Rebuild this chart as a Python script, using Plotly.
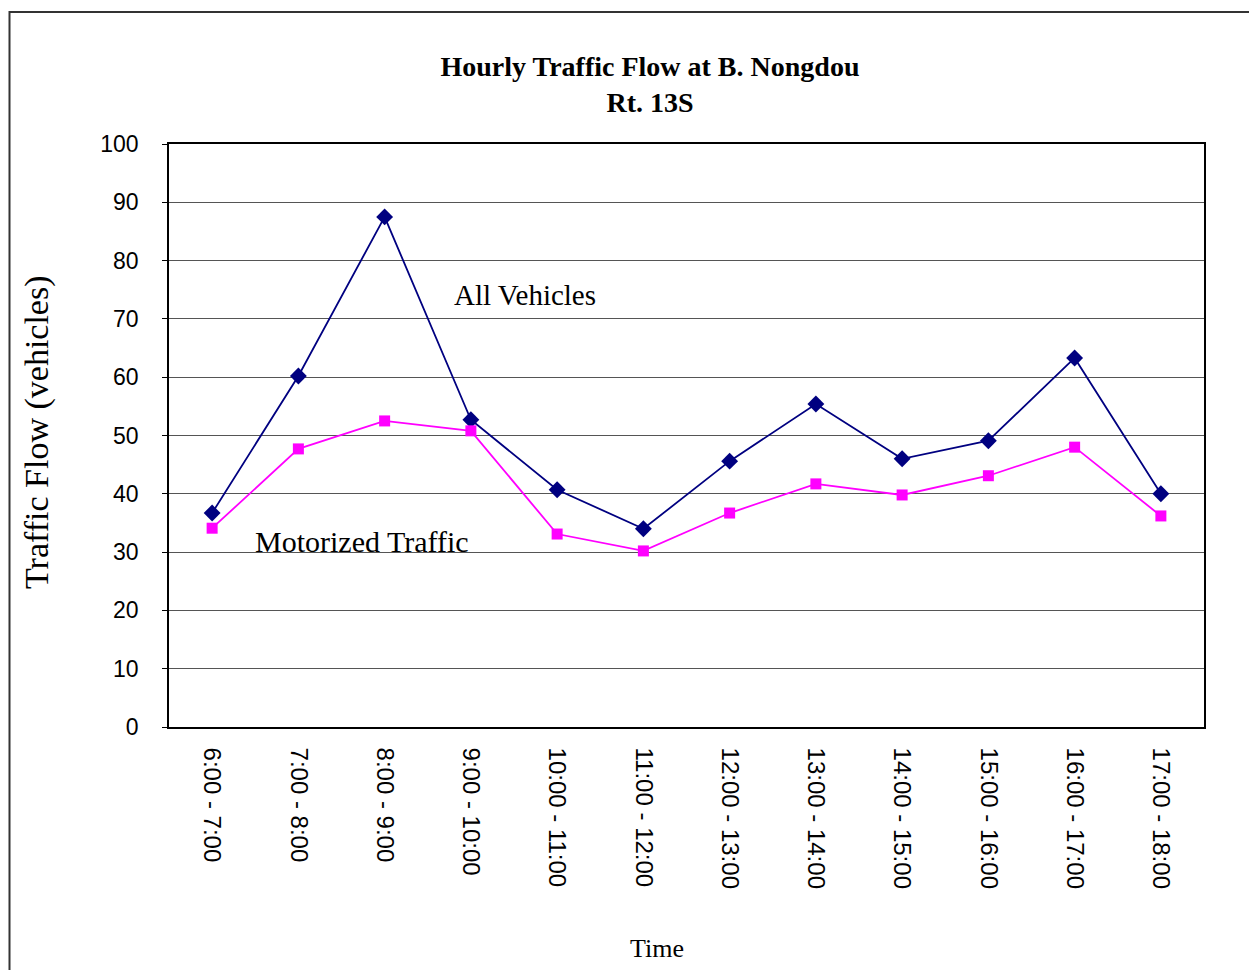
import plotly.graph_objects as go

hours = ["6:00 - 7:00", "7:00 - 8:00", "8:00 - 9:00", "9:00 - 10:00", "10:00 - 11:00",
         "11:00 - 12:00", "12:00 - 13:00", "13:00 - 14:00", "14:00 - 15:00",
         "15:00 - 16:00", "16:00 - 17:00", "17:00 - 18:00"]
all_vehicles = [36.7, 60.2, 87.5, 52.7, 40.7, 34.0, 45.6, 55.4, 46.0, 49.1, 63.3, 40.0]
motorized = [34.1, 47.7, 52.5, 50.8, 33.1, 30.2, 36.7, 41.7, 39.8, 43.1, 48.0, 36.2]
y_ticks = [0, 10, 20, 30, 40, 50, 60, 70, 80, 90, 100]

serif = "Liberation Serif, Times New Roman, serif"
sans = "Liberation Sans, Arial, sans-serif"

# page body has an 8px margin, so the figure is drawn 8px left/up of where it lands
off = 8

fig = go.Figure()
fig.add_trace(go.Scatter(x=hours, y=all_vehicles, mode="lines+markers", name="All Vehicles",
                         line=dict(color="#000080", width=1.8),
                         marker=dict(symbol="diamond", size=13, color="#000080")))
fig.add_trace(go.Scatter(x=hours, y=motorized, mode="lines+markers", name="Motorized Traffic",
                         line=dict(color="#FF00FF", width=1.8),
                         marker=dict(symbol="square", size=11, color="#FF00FF")))

fig.update_layout(
    width=1257, height=970,
    margin=dict(l=169 - off, r=53 + off, t=144 - off, b=243 + off),
    paper_bgcolor="white", plot_bgcolor="white",
    showlegend=False,
    title=dict(text="<b>Hourly Traffic Flow at B. Nongdou<br>Rt. 13S</b>",
               x=(650 - off) / 1257, xanchor="center", y=1 - (76 - off) / 970, yanchor="middle",
               font=dict(family=serif, size=28, color="black")),
)
fig.update_xaxes(
    type="category", range=[-0.5, 11.5], tickangle=90,
    tickfont=dict(family=sans, size=24, color="black"), ticklabelstandoff=14,
    showline=True, linecolor="black", linewidth=1.5, mirror=True, showgrid=False,
)
fig.update_yaxes(
    range=[0, 100], tickvals=y_ticks,
    tickfont=dict(family=sans, size=23, color="black"),
    ticks="outside", ticklen=5, tickcolor="black", ticklabelstandoff=19,
    showline=True, linecolor="black", linewidth=1.5, mirror=True,
    gridcolor="#555555", gridwidth=1.2, zeroline=False,
)

fig.add_annotation(text="Traffic Flow (vehicles)", xref="paper", yref="paper",
                   x=(37 - 169) / 1035, xanchor="center", y=(727 - 432) / 583, yanchor="middle",
                   textangle=-90, showarrow=False,
                   font=dict(family=serif, size=34, color="black"))
fig.add_annotation(text="Time", xref="paper", yref="paper",
                   x=(657 - 169) / 1035, xanchor="center", y=(727 - 948) / 583, yanchor="middle",
                   showarrow=False, font=dict(family=serif, size=26, color="black"))
fig.add_annotation(text="All Vehicles", xref="paper", yref="paper",
                   x=(452 - 169) / 1035, xanchor="left", y=(727 - 295) / 583, yanchor="middle",
                   showarrow=False, font=dict(family=serif, size=29, color="black"))
fig.add_annotation(text="Motorized Traffic", xref="paper", yref="paper",
                   x=(253 - 169) / 1035, xanchor="left", y=(727 - 541) / 583, yanchor="middle",
                   showarrow=False, font=dict(family=serif, size=30, color="black"))

fig.add_shape(type="rect", xref="paper", yref="paper",
              x0=(9.5 - 169) / 1035, x1=(1262 - 169) / 1035,
              y0=(727 - 980) / 583, y1=(727 - 12) / 583,
              line=dict(color="#333333", width=2), layer="below")

fig.write_html("out.html")
